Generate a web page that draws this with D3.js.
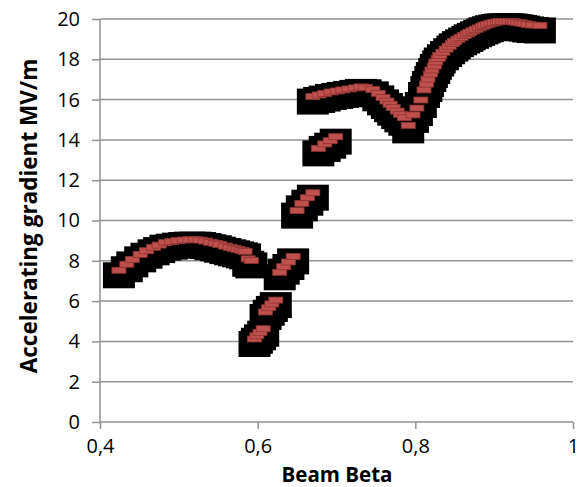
<!DOCTYPE html>
<html>
<head>
<meta charset="utf-8">
<script src="https://cdn.jsdelivr.net/npm/d3@7"></script>
<style>
    html, body { margin: 0; padding: 0; background: #fff; }
    svg { display: block; }
</style>
</head>
<body>
<svg id="chart" width="588" height="487"></svg>
<script>
(function(){
    'use strict';

    // beam beta values, one array per cavity group
    var beta1 = [0.424, 0.434, 0.441, 0.451, 0.459, 0.468, 0.475, 0.483, 0.491, 0.499, 0.507, 0.514, 0.521,
                 0.527, 0.534, 0.540, 0.547, 0.552, 0.559, 0.565, 0.570, 0.575, 0.580, 0.584, 0.588, 0.592];
    var grad1 = [7.53, 7.83, 8.07, 8.32, 8.50, 8.67, 8.78, 8.90, 8.95, 9.00, 9.03, 9.05, 9.05,
                 9.03, 8.98, 8.92, 8.87, 8.80, 8.73, 8.67, 8.62, 8.57, 8.52, 8.47, 8.10, 8.02];

    var beta2 = [0.596, 0.599, 0.603, 0.607, 0.610, 0.614, 0.618, 0.623, 0.628, 0.633, 0.639, 0.645];
    var grad2 = [4.12, 4.28, 4.45, 4.63, 5.46, 5.67, 5.86, 6.05, 7.43, 7.71, 7.94, 8.22];

    var beta3 = [0.650, 0.656, 0.663, 0.670, 0.677, 0.685, 0.692, 0.699];
    var grad3 = [10.49, 10.85, 11.13, 11.38, 13.58, 13.80, 13.96, 14.16];

    var beta4 = [0.670, 0.678, 0.685, 0.693, 0.701, 0.708, 0.716, 0.724, 0.731, 0.737, 0.746, 0.753,
                 0.759, 0.764, 0.768, 0.772, 0.777, 0.781, 0.786, 0.791];
    var grad4 = [16.15, 16.23, 16.30, 16.38, 16.43, 16.48, 16.53, 16.58, 16.63, 16.61, 16.51, 16.31,
                 16.11, 15.93, 15.77, 15.60, 15.43, 15.27, 15.10, 14.72];

    var beta5 = [0.797, 0.802, 0.807, 0.811, 0.814, 0.816, 0.819, 0.821, 0.824, 0.826, 0.829, 0.831,
                 0.835, 0.839, 0.843, 0.847, 0.850, 0.854, 0.858, 0.862, 0.866, 0.869, 0.873, 0.877,
                 0.881, 0.885, 0.888, 0.892, 0.896, 0.900, 0.904, 0.907, 0.911, 0.915, 0.919, 0.923,
                 0.926, 0.930, 0.934, 0.938, 0.943, 0.949, 0.958];
    var grad5 = [15.24, 15.58, 15.98, 16.48, 16.77, 17.02, 17.27, 17.47, 17.67, 17.87, 18.04, 18.19,
                 18.35, 18.51, 18.65, 18.78, 18.89, 19.00, 19.09, 19.18, 19.26, 19.34, 19.41, 19.49,
                 19.56, 19.63, 19.69, 19.74, 19.79, 19.82, 19.85, 19.87, 19.88, 19.88, 19.88, 19.87,
                 19.85, 19.83, 19.80, 19.77, 19.73, 19.70, 19.68];

    var xTicks = [0.4, 0.6, 0.8, 1];
    var yTicks = [0, 2, 4, 6, 8, 10, 12, 14, 16, 18, 20];

    var svg = d3.select('#chart');
    var font = '"Open Sans", "Noto Sans", sans-serif';

    var x = d3.scaleLinear().domain([0.4, 1]).range([100, 573]);
    var y = d3.scaleLinear().domain([0, 20]).range([422, 19]);

    function pairs(b, g) {
        return b.map(function (d, i) { return {b: d, g: g[i]}; });
    }

    var points = [].concat(pairs(beta1, grad1), pairs(beta2, grad2), pairs(beta3, grad3),
                           pairs(beta4, grad4), pairs(beta5, grad5));

    // horizontal gridlines
    svg.append('g').selectAll('line').data(yTicks.slice(1)).enter().append('line')
        .attr('x1', x(0.4)).attr('x2', x(1))
        .attr('y1', function (d) { return y(d); }).attr('y2', function (d) { return y(d); })
        .attr('stroke', '#929292').attr('stroke-width', 1.5);

    var yAxis = svg.append('g').attr('transform', 'translate(' + x(0.4) + ',0)')
        .call(d3.axisLeft(y).tickValues(yTicks).tickSize(8).tickPadding(12));
    var xAxis = svg.append('g').attr('transform', 'translate(0,' + y(0) + ')')
        .call(d3.axisBottom(x).tickValues(xTicks).tickSize(7).tickPadding(10)
            .tickFormat(function (d) { return d === 1 ? '1' : String(d).replace('.', ','); }));

    [yAxis, xAxis].forEach(function (a) {
        a.selectAll('path, line').attr('stroke', '#929292').attr('stroke-width', 1.5);
        a.selectAll('text').attr('font-family', font).attr('font-size', 20).attr('fill', '#000');
    });
    yAxis.select('.domain').attr('d', 'M0,' + y(0) + 'V' + y(20));
    xAxis.select('.domain').attr('d', 'M' + x(0.4) + ',0H' + x(1));

    // black shadow behind the markers
    svg.append('g').selectAll('rect').data(points).enter().append('rect')
        .attr('x', function (d) { return x(d.b) - 16; })
        .attr('y', function (d) { return y(d.g) - 8; })
        .attr('width', 32).attr('height', 26)
        .attr('fill', '#000');

    // red markers
    svg.append('g').selectAll('rect').data(points).enter().append('rect')
        .attr('x', function (d) { return x(d.b) - 7; })
        .attr('y', function (d) { return y(d.g) - 3; })
        .attr('width', 14).attr('height', 6)
        .attr('fill', '#c0504d')
        .attr('stroke', '#8c3431').attr('stroke-width', 0.8);

    svg.append('text')
        .attr('x', 337).attr('y', 482)
        .attr('text-anchor', 'middle')
        .attr('font-family', font).attr('font-weight', 'bold').attr('font-size', 20.5)
        .text('Beam Beta');

    svg.append('text')
        .attr('transform', 'translate(37,216) rotate(-90)')
        .attr('text-anchor', 'middle')
        .attr('font-family', font).attr('font-weight', 'bold').attr('font-size', 22.5)
        .text('Accelerating gradient MV/m');
})();
</script>
</body>
</html>
